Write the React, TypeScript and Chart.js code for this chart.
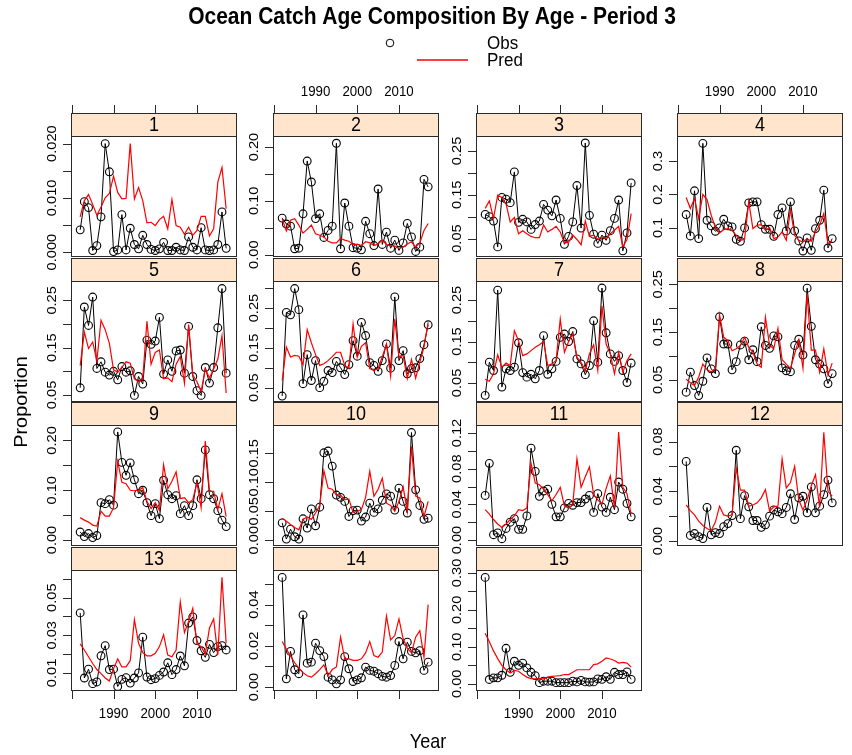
import React, { useEffect, useRef } from 'react';
import { Chart, registerables } from 'chart.js';

Chart.register(...registerables);

const W = 852;
const H = 755;
const FONT = '"Liberation Sans", Arial, Helvetica, sans-serif';

const TITLE = 'Ocean Catch Age Composition By Age - Period 3';
const X_LABEL = 'Year';
const Y_LABEL = 'Proportion';
const LEGEND_LABELS = ['Obs', 'Pred'];
const PANEL_NAMES = ['1', '2', '3', '4', '5', '6', '7', '8', '9', '10', '11', '12', '13', '14', '15'];

const years = [
  1982, 1983, 1984, 1985, 1986, 1987, 1988, 1989, 1990, 1991, 1992, 1993,
  1994, 1995, 1996, 1997, 1998, 1999, 2000, 2001, 2002, 2003, 2004, 2005,
  2006, 2007, 2008, 2009, 2010, 2011, 2012, 2013, 2014, 2015, 2016, 2017,
];

const X_MIN = 1979.8;
const X_MAX = 2019.6;
const xTickValues = [1980, 1990, 2000, 2010];
const xTickLabels = ['', '1990', '2000', '2010'];

// ---- observed ----
const obs1 = [0.0041,0.0093,0.0082,0.0003,0.0012,0.0065,0.0200,0.0148,0.0001,0.0004,0.0069,0.0004,0.0044,0.0014,0.0006,0.0031,0.0014,0.0005,0.0003,0.0006,0.0018,0.0003,0.0003,0.0009,0.0004,0.0003,0.0028,0.0009,0.0004,0.0045,0.0004,0.0003,0.0004,0.0014,0.0074,0.0007];
const obs2 = [0.068,0.057,0.053,0.011,0.012,0.076,0.174,0.135,0.067,0.076,0.032,0.045,0.053,0.207,0.011,0.096,0.053,0.013,0.012,0.009,0.062,0.039,0.017,0.122,0.019,0.042,0.012,0.027,0.008,0.022,0.058,0.033,0.006,0.014,0.140,0.126];
const obs3 = [0.105,0.100,0.090,0.031,0.144,0.140,0.132,0.202,0.087,0.094,0.088,0.071,0.082,0.090,0.128,0.115,0.102,0.138,0.096,0.037,0.055,0.088,0.171,0.074,0.268,0.103,0.060,0.039,0.058,0.046,0.068,0.096,0.138,0.022,0.063,0.177];
const obs4 = [0.140,0.076,0.211,0.068,0.353,0.123,0.106,0.090,0.100,0.126,0.106,0.103,0.066,0.060,0.100,0.175,0.178,0.178,0.110,0.096,0.096,0.075,0.140,0.160,0.091,0.178,0.091,0.061,0.031,0.070,0.033,0.098,0.123,0.213,0.040,0.068];
const obs5 = [0.065,0.236,0.197,0.257,0.106,0.120,0.098,0.092,0.100,0.082,0.110,0.098,0.101,0.049,0.089,0.073,0.166,0.157,0.164,0.214,0.094,0.124,0.100,0.143,0.145,0.096,0.195,0.089,0.059,0.049,0.108,0.075,0.108,0.192,0.275,0.096];
const obs6 = [0.029,0.239,0.233,0.299,0.246,0.060,0.133,0.068,0.118,0.050,0.066,0.093,0.088,0.116,0.100,0.083,0.108,0.168,0.129,0.214,0.181,0.113,0.106,0.091,0.118,0.160,0.099,0.278,0.118,0.143,0.085,0.098,0.100,0.123,0.158,0.208];
const obs7 = [0.020,0.100,0.080,0.274,0.040,0.084,0.080,0.088,0.147,0.075,0.064,0.071,0.060,0.080,0.164,0.071,0.084,0.102,0.160,0.168,0.150,0.174,0.108,0.096,0.070,0.092,0.200,0.100,0.279,0.171,0.120,0.102,0.116,0.080,0.051,0.098];
const obs8 = [0.024,0.066,0.038,0.017,0.047,0.096,0.073,0.063,0.182,0.125,0.125,0.071,0.088,0.123,0.131,0.092,0.113,0.088,0.161,0.122,0.116,0.142,0.140,0.075,0.069,0.067,0.122,0.135,0.102,0.242,0.162,0.092,0.083,0.073,0.042,0.063];
const obs9 = [0.016,0.007,0.013,0.005,0.009,0.075,0.073,0.081,0.070,0.217,0.156,0.130,0.155,0.121,0.093,0.100,0.075,0.049,0.073,0.043,0.120,0.091,0.083,0.089,0.053,0.069,0.049,0.069,0.121,0.083,0.181,0.091,0.083,0.059,0.040,0.027];
const obs10 = [0.030,0.002,0.019,0.006,0.002,0.037,0.021,0.054,0.025,0.057,0.151,0.154,0.128,0.078,0.074,0.067,0.041,0.051,0.052,0.033,0.040,0.064,0.048,0.054,0.069,0.080,0.076,0.052,0.090,0.067,0.047,0.186,0.087,0.060,0.036,0.038];
const obs11 = [0.050,0.086,0.006,0.008,0.0015,0.013,0.020,0.024,0.012,0.012,0.027,0.103,0.077,0.049,0.055,0.057,0.040,0.026,0.026,0.036,0.041,0.039,0.042,0.042,0.046,0.050,0.031,0.052,0.037,0.031,0.048,0.034,0.065,0.057,0.041,0.026];
const obs12 = [0.064,0.0045,0.006,0.0035,0.002,0.027,0.005,0.0067,0.006,0.0115,0.014,0.0205,0.073,0.018,0.0365,0.0275,0.0165,0.0165,0.011,0.013,0.020,0.025,0.0235,0.022,0.027,0.038,0.0173,0.0347,0.036,0.0227,0.0435,0.0227,0.028,0.0373,0.049,0.0307];
const obs13 = [0.0419,0.0073,0.012,0.0043,0.0052,0.0191,0.0245,0.0118,0.012,0.0028,0.0066,0.0075,0.0046,0.0073,0.010,0.029,0.0078,0.0064,0.007,0.0087,0.0105,0.0154,0.0091,0.0118,0.019,0.0138,0.0365,0.0398,0.0272,0.0218,0.0183,0.0252,0.0208,0.024,0.0245,0.0222];
const obs14 = [0.0532,0.004,0.0173,0.0084,0.0065,0.035,0.0116,0.0121,0.0213,0.0177,0.0148,0.0048,0.0035,0.0016,0.0035,0.0148,0.0089,0.0027,0.0035,0.0045,0.0097,0.0081,0.0077,0.0065,0.0052,0.0048,0.0056,0.0105,0.0221,0.0137,0.0218,0.0173,0.0166,0.0177,0.0081,0.0121];
const obs15 = [0.288,0.0116,0.016,0.016,0.023,0.096,0.031,0.061,0.050,0.056,0.043,0.031,0.022,0.003,0.007,0.007,0.007,0.003,0.003,0.003,0.003,0.007,0.005,0.009,0.005,0.0045,0.005,0.013,0.012,0.019,0.012,0.031,0.025,0.025,0.032,0.012];

// ---- predicted ----
const pred1 = [0.0065,0.0095,0.0106,0.0088,0.0068,0.0083,0.0100,0.0108,0.0140,0.0110,0.0098,0.0099,0.0200,0.0098,0.0119,0.0095,0.0054,0.0055,0.0049,0.0060,0.0066,0.0043,0.0097,0.0049,0.0046,0.0033,0.0046,0.0031,0.0040,0.0066,0.0066,0.0030,0.0043,0.0129,0.0156,0.0080];
const pred2 = [0.067,0.044,0.064,0.067,0.055,0.040,0.047,0.055,0.039,0.036,0.033,0.025,0.022,0.022,0.030,0.027,0.025,0.019,0.019,0.017,0.024,0.022,0.017,0.020,0.027,0.019,0.017,0.016,0.012,0.014,0.020,0.024,0.014,0.022,0.045,0.058];
const pred3 = [0.119,0.136,0.096,0.149,0.144,0.129,0.088,0.098,0.061,0.068,0.061,0.055,0.052,0.052,0.081,0.065,0.071,0.078,0.065,0.040,0.042,0.058,0.048,0.036,0.090,0.055,0.058,0.048,0.054,0.050,0.061,0.069,0.078,0.031,0.048,0.107];
const pred4 = [0.191,0.158,0.188,0.128,0.200,0.185,0.138,0.101,0.085,0.095,0.098,0.093,0.078,0.063,0.066,0.178,0.098,0.108,0.110,0.093,0.101,0.068,0.073,0.088,0.063,0.155,0.078,0.063,0.058,0.068,0.060,0.088,0.108,0.143,0.053,0.062];
const pred5 = [0.112,0.183,0.148,0.162,0.122,0.208,0.188,0.159,0.103,0.098,0.108,0.120,0.117,0.084,0.078,0.084,0.206,0.115,0.140,0.145,0.084,0.086,0.078,0.115,0.131,0.075,0.199,0.092,0.078,0.057,0.105,0.086,0.105,0.126,0.175,0.054];
const pred6 = [0.068,0.152,0.127,0.131,0.129,0.108,0.196,0.163,0.133,0.106,0.110,0.118,0.128,0.139,0.139,0.106,0.098,0.210,0.127,0.154,0.163,0.098,0.093,0.098,0.127,0.160,0.079,0.223,0.127,0.131,0.073,0.121,0.074,0.114,0.152,0.214];
const pred7 = [0.059,0.054,0.072,0.118,0.088,0.098,0.092,0.176,0.152,0.116,0.120,0.128,0.136,0.142,0.150,0.092,0.096,0.104,0.204,0.124,0.150,0.168,0.112,0.100,0.080,0.120,0.142,0.080,0.236,0.144,0.120,0.072,0.124,0.076,0.104,0.120];
const pred8 = [0.051,0.044,0.038,0.056,0.083,0.071,0.067,0.073,0.186,0.139,0.132,0.111,0.115,0.122,0.139,0.118,0.108,0.083,0.076,0.181,0.122,0.115,0.158,0.092,0.083,0.074,0.104,0.134,0.074,0.229,0.112,0.112,0.066,0.115,0.060,0.085];
const pred9 = [0.045,0.040,0.036,0.030,0.028,0.058,0.048,0.048,0.065,0.158,0.116,0.113,0.100,0.099,0.100,0.105,0.078,0.063,0.075,0.060,0.151,0.103,0.118,0.137,0.083,0.085,0.075,0.081,0.115,0.065,0.199,0.098,0.098,0.061,0.093,0.047];
const pred10 = [0.038,0.033,0.027,0.022,0.018,0.036,0.040,0.036,0.047,0.060,0.120,0.090,0.088,0.078,0.078,0.070,0.071,0.048,0.050,0.053,0.074,0.119,0.076,0.088,0.107,0.064,0.060,0.050,0.067,0.092,0.050,0.162,0.076,0.073,0.041,0.067];
const pred11 = [0.034,0.029,0.023,0.018,0.014,0.018,0.023,0.027,0.034,0.033,0.036,0.086,0.064,0.062,0.057,0.051,0.044,0.051,0.059,0.038,0.036,0.040,0.091,0.059,0.071,0.082,0.051,0.045,0.040,0.058,0.072,0.036,0.121,0.059,0.052,0.029];
const pred12 = [0.029,0.0245,0.021,0.016,0.0125,0.010,0.0085,0.0152,0.028,0.021,0.020,0.021,0.0587,0.041,0.041,0.028,0.029,0.0307,0.0347,0.0413,0.024,0.0275,0.028,0.066,0.0427,0.047,0.060,0.033,0.025,0.033,0.0445,0.0533,0.027,0.0875,0.040,0.036];
const pred13 = [0.0254,0.0222,0.0186,0.015,0.0118,0.0096,0.0073,0.0057,0.0123,0.0174,0.0132,0.0132,0.0165,0.0383,0.0258,0.0208,0.0191,0.0191,0.0204,0.024,0.0303,0.0195,0.0186,0.0222,0.0477,0.0315,0.0374,0.0443,0.0254,0.024,0.020,0.0339,0.0387,0.0195,0.0608,0.0258];
const pred14 = [0.0221,0.0185,0.0150,0.0118,0.0092,0.0070,0.0055,0.0048,0.0065,0.0085,0.0108,0.0056,0.0085,0.0098,0.0242,0.0137,0.0137,0.0130,0.0130,0.0137,0.0166,0.0221,0.0153,0.0145,0.0170,0.0344,0.0229,0.0250,0.0331,0.0234,0.0189,0.0166,0.0242,0.0274,0.0145,0.0400];
const pred15 = [0.137,0.114,0.089,0.068,0.050,0.038,0.029,0.036,0.034,0.025,0.018,0.014,0.013,0.013,0.014,0.018,0.020,0.021,0.022,0.025,0.025,0.031,0.038,0.038,0.038,0.038,0.052,0.054,0.061,0.070,0.067,0.063,0.056,0.058,0.056,0.045];

const OBS = [obs1, obs2, obs3, obs4, obs5, obs6, obs7, obs8, obs9, obs10, obs11, obs12, obs13, obs14, obs15];
const PRED = [pred1, pred2, pred3, pred4, pred5, pred6, pred7, pred8, pred9, pred10, pred11, pred12, pred13, pred14, pred15];

// ---- y axis per panel ----
const yMin = [-0.0009, -0.0043, 0.008, 0.013, 0.035, 0.014, 0.004, 0.0035, -0.012, -0.010, -0.0067, -0.004, 0.0004, -0.0019, -0.0196];
const yMax = [0.0214, 0.2205, 0.284, 0.375, 0.291, 0.318, 0.296, 0.257, 0.231, 0.199, 0.129, 0.0933, 0.0647, 0.0568, 0.308];
const yStep = [0.005, 0.05, 0.05, 0.1, 0.05, 0.05, 0.05, 0.05, 0.05, 0.05, 0.02, 0.02, 0.01, 0.01, 0.05];
const yLabelEvery = [2, 2, 2, 1, 2, 2, 2, 2, 2, 1, 2, 2, 2, 2, 2];
const yDecimals = [3, 2, 2, 1, 2, 2, 2, 2, 2, 2, 2, 2, 2, 2, 2];

// ---- layout ----
const COL_LEFT = [71, 273, 476, 677];
const PANEL_W = 166;
const ROW_TOP = [113, 258, 402, 547];
const STRIP_H = 23;
const PLOT_H = 121;
const FRAME = '#2a2a2a';
const STRETCH = 1.1; // text in the reference is slightly tall

function hText(ctx: CanvasRenderingContext2D, s: string, x: number, y: number) {
  ctx.save();
  ctx.translate(x, y);
  ctx.scale(1, STRETCH);
  ctx.fillText(s, 0, 0);
  ctx.restore();
}

function vText(ctx: CanvasRenderingContext2D, s: string, x: number, y: number) {
  ctx.save();
  ctx.translate(x, y);
  ctx.rotate(-Math.PI / 2);
  ctx.scale(STRETCH, 1);
  ctx.fillText(s, 0, 0);
  ctx.restore();
}

function panelPlugin(i: number) {
  const col = i % 4;
  const row = Math.floor(i / 4);
  return {
    id: 'panelDecor' + i,
    afterDraw(chart: any) {
      const ctx: CanvasRenderingContext2D = chart.ctx;
      const a = chart.chartArea;
      const xs = chart.scales.x;
      const ys = chart.scales.y;
      const sTop = a.top - STRIP_H;
      ctx.save();
      // strip
      ctx.fillStyle = '#FFE5CC';
      ctx.fillRect(a.left, sTop, a.right - a.left, STRIP_H);
      ctx.strokeStyle = FRAME;
      ctx.lineWidth = 1;
      ctx.strokeRect(a.left + 0.5, sTop + 0.5, a.right - a.left - 1, STRIP_H);
      ctx.fillStyle = '#000';
      ctx.font = `18px ${FONT}`;
      ctx.textAlign = 'center';
      ctx.textBaseline = 'middle';
      hText(ctx, PANEL_NAMES[i], (a.left + a.right) / 2, sTop + STRIP_H / 2 + 1);
      // frame
      ctx.strokeRect(a.left + 0.5, a.top + 0.5, a.right - a.left - 1, a.bottom - a.top - 1);

      // y ticks
      ctx.font = `13.3px ${FONT}`;
      const step = yStep[i];
      const start = Math.ceil((yMin[i] - 1e-9) / step);
      let k = 0;
      for (let n = start; n * step <= yMax[i] + 1e-9; n++, k++) {
        const v = n * step;
        const py = Math.round(ys.getPixelForValue(v)) + 0.5;
        ctx.beginPath();
        ctx.moveTo(a.left - 8, py);
        ctx.lineTo(a.left, py);
        ctx.stroke();
        if (k % yLabelEvery[i] === 0) {
          ctx.textAlign = 'center';
          ctx.textBaseline = 'alphabetic';
          vText(ctx, v.toFixed(yDecimals[i]), a.left - 15.5, ys.getPixelForValue(v));
        }
      }

      ctx.textAlign = 'center';
      ctx.textBaseline = 'middle';
      // top x axis (first row)
      if (row === 0) {
        xTickValues.forEach((xv, j) => {
          const px = Math.round(xs.getPixelForValue(xv)) + 0.5;
          ctx.beginPath();
          ctx.moveTo(px, sTop - 8);
          ctx.lineTo(px, sTop);
          ctx.stroke();
          if (col % 2 === 1 && xTickLabels[j]) {
            hText(ctx, xTickLabels[j], xs.getPixelForValue(xv), sTop - 21);
          }
        });
      }
      // bottom x axis (last row)
      if (i >= 12) {
        xTickValues.forEach((xv, j) => {
          const px = Math.round(xs.getPixelForValue(xv)) + 0.5;
          ctx.beginPath();
          ctx.moveTo(px, a.bottom);
          ctx.lineTo(px, a.bottom + 8);
          ctx.stroke();
          if (col % 2 === 0 && xTickLabels[j]) {
            hText(ctx, xTickLabels[j], xs.getPixelForValue(xv), a.bottom + 23);
          }
        });
      }

      if (i === 0) {
        // title
        ctx.fillStyle = '#000';
        ctx.font = `bold 21px ${FONT}`;
        ctx.textAlign = 'center';
        ctx.textBaseline = 'middle';
        hText(ctx, TITLE, 432, 18);
        // legend
        ctx.font = `17px ${FONT}`;
        ctx.textAlign = 'left';
        ctx.strokeStyle = '#000';
        ctx.lineWidth = 1;
        ctx.beginPath();
        ctx.arc(390, 43, 3.8, 0, Math.PI * 2);
        ctx.stroke();
        hText(ctx, LEGEND_LABELS[0], 487, 44);
        ctx.strokeStyle = '#FF0000';
        ctx.lineWidth = 1.3;
        ctx.beginPath();
        ctx.moveTo(417, 60);
        ctx.lineTo(468, 60);
        ctx.stroke();
        hText(ctx, LEGEND_LABELS[1], 487, 61);
        // axis labels
        ctx.font = `18px ${FONT}`;
        ctx.textAlign = 'center';
        hText(ctx, X_LABEL, 428, 743);
        vText(ctx, Y_LABEL, 22, 402);
      }
      ctx.restore();
    },
  };
}

export default function App() {
  const refs = useRef<(HTMLCanvasElement | null)[]>([]);

  useEffect(() => {
    const charts: Chart[] = [];
    OBS.forEach((obs, i) => {
      const canvas = refs.current[i];
      if (!canvas) return;
      const col = i % 4;
      const row = Math.floor(i / 4);
      const left = COL_LEFT[col];
      const top = ROW_TOP[row] + STRIP_H;
      const right = W - (left + PANEL_W);
      const bottom = H - (top + PLOT_H);
      const chart = new Chart(canvas, {
        type: 'line',
        data: {
          datasets: [
            {
              label: LEGEND_LABELS[1],
              data: years.map((x, k) => ({ x, y: PRED[i][k] })),
              borderColor: '#FF0000',
              borderWidth: 1.2,
              pointRadius: 0,
              fill: false,
              tension: 0,
              order: 0,
            },
            {
              label: LEGEND_LABELS[0],
              data: years.map((x, k) => ({ x, y: obs[k] })),
              borderColor: '#000000',
              borderWidth: 1,
              pointRadius: 3.9,
              pointStyle: 'circle',
              pointBorderColor: '#000000',
              pointBackgroundColor: 'rgba(0,0,0,0)',
              pointBorderWidth: 1.1,
              fill: false,
              tension: 0,
              order: 1,
            },
          ],
        },
        options: {
          responsive: false,
          maintainAspectRatio: false,
          animation: false,
          devicePixelRatio: 1,
          events: [],
          layout: { padding: { left, top, right, bottom } },
          plugins: {
            legend: { display: false },
            title: { display: false },
            tooltip: { enabled: false },
          },
          scales: {
            x: { type: 'linear', min: X_MIN, max: X_MAX, display: false },
            y: { type: 'linear', min: yMin[i], max: yMax[i], display: false },
          },
        },
        plugins: [panelPlugin(i)],
      } as any);
      charts.push(chart);
    });
    return () => charts.forEach((c) => c.destroy());
  }, []);

  return (
    <div style={{ position: 'fixed', left: 0, top: 0, width: W, height: H, background: '#ffffff', overflow: 'hidden' }}>
      {OBS.map((_, i) => (
        <canvas
          key={i}
          ref={(el) => { refs.current[i] = el; }}
          width={W}
          height={H}
          style={{ position: 'absolute', left: 0, top: 0, width: W, height: H }}
        />
      ))}
    </div>
  );
}
